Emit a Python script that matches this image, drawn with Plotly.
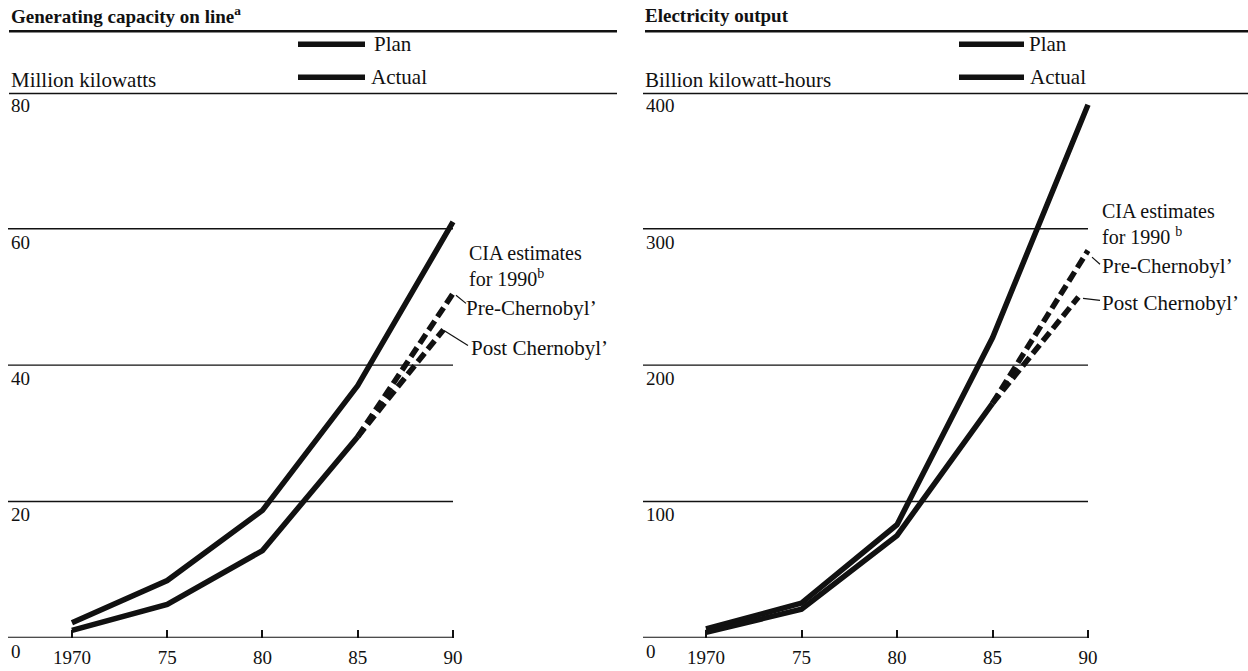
import plotly.graph_objects as go

W, H = 1248, 671          # reference pixel grid used for positioning
FIG_H = 698               # page height that the capture squeezes back to 671

# ---------------- data ----------------
years = [1970, 1975, 1980, 1985, 1990]
actual_years = [1970, 1975, 1980, 1985]
pre_years = [1985, 1990]
post_years = [1985, 1989.5]

# Generating capacity on line (million kW)
cap_plan = [2.2, 8.4, 18.7, 37.0, 61.0]
cap_actual = [1.1, 4.9, 12.8, 29.5]
cap_pre = [29.5, 50.5]
cap_post = [29.5, 45.2]

# Electricity output (billion kWh)
out_plan = [6.5, 25.5, 83.0, 220.0, 391.0]
out_actual = [4.0, 21.0, 75.0, 172.0]
out_pre = [172.0, 284.0]
out_post = [172.0, 250.0]

xtick_vals = [1970, 1975, 1980, 1985, 1990]
xtick_text = ["1970", "75", "80", "85", "90"]
cap_ticks = [0, 20, 40, 60, 80]
out_ticks = [0, 100, 200, 300, 400]

# ---------------- helpers ----------------
def px(x):
    return x / W

def py(y):
    return 1 - y / H

INK = "#111111"
SERIF = "Liberation Serif"
LW = 5.5

fig = go.Figure()

def add_lines(xa, ya, plan, actual, pre, post):
    fig.add_trace(go.Scatter(x=years, y=plan, mode="lines", xaxis=xa, yaxis=ya,
                             line=dict(color=INK, width=LW), showlegend=False, name="Plan"))
    fig.add_trace(go.Scatter(x=actual_years, y=actual, mode="lines", xaxis=xa, yaxis=ya,
                             line=dict(color=INK, width=LW), showlegend=False, name="Actual"))
    fig.add_trace(go.Scatter(x=pre_years, y=pre, mode="lines", xaxis=xa, yaxis=ya,
                             line=dict(color=INK, width=LW, dash="11px,5px"), showlegend=False,
                             name="Pre-Chernobyl’"))
    fig.add_trace(go.Scatter(x=post_years, y=post, mode="lines", xaxis=xa, yaxis=ya,
                             line=dict(color=INK, width=LW, dash="11px,5px"), showlegend=False,
                             name="Post Chernobyl’"))

add_lines("x", "y", cap_plan, cap_actual, cap_pre, cap_post)
add_lines("x2", "y2", out_plan, out_actual, out_pre, out_post)

# panel geometry (pixels on the reference grid)
Y0, Y1 = 635, 92
L_X0, L_X90 = 8, 453
R_X0, R_X90 = 643, 1088
EXT = 12
L_start = 1970 - (72 - L_X0) / 19.07
R_start = 1970 - (706 - R_X0) / 19.1

xaxis_common = dict(tickvals=xtick_vals, ticktext=xtick_text, ticks="inside", ticklen=8,
                    tickwidth=1.5, tickcolor=INK, showline=False, showgrid=False, zeroline=False,
                    tickfont=dict(family=SERIF, size=19, color=INK), ticklabelstandoff=6)
yaxis_common = dict(ticks="", showline=False, showgrid=False, zeroline=False,
                    ticklabelposition="inside bottom", ticklabeloverflow="allow",
                    tickfont=dict(family=SERIF, size=19, color=INK))

fig.update_layout(
    width=W, height=FIG_H, margin=dict(l=0, r=0, t=0, b=0),
    paper_bgcolor="white", plot_bgcolor="rgba(0,0,0,0)",
    xaxis=dict(domain=[px(L_X0), px(L_X90 + EXT)], range=[L_start, 1990 + EXT / 19.07],
               anchor="y", **xaxis_common),
    yaxis=dict(domain=[py(Y0), py(Y1)], range=[0, 80], anchor="x",
               tickvals=cap_ticks, ticktext=[str(v) for v in cap_ticks], **yaxis_common),
    xaxis2=dict(domain=[px(R_X0), px(R_X90 + EXT)], range=[R_start, 1990 + EXT / 19.1],
                anchor="y2", **xaxis_common),
    yaxis2=dict(domain=[py(Y0), py(Y1)], range=[0, 400], anchor="x2",
                tickvals=out_ticks, ticktext=[str(v) for v in out_ticks], **yaxis_common),
    showlegend=False,
)

shapes = []
# gridlines & baselines in data coordinates
for v in [20, 40, 60]:
    shapes.append(dict(type="line", xref="x", yref="y", x0=L_start, x1=1990, y0=v, y1=v,
                       line=dict(color=INK, width=1.3), layer="below"))
for v in [100, 200, 300]:
    shapes.append(dict(type="line", xref="x2", yref="y2", x0=R_start, x1=1990, y0=v, y1=v,
                       line=dict(color=INK, width=1.3), layer="below"))
shapes.append(dict(type="line", xref="x", yref="y", x0=L_start, x1=1990, y0=0, y1=0,
                   line=dict(color=INK, width=2)))
shapes.append(dict(type="line", xref="x2", yref="y2", x0=R_start, x1=1990, y0=0, y1=0,
                   line=dict(color=INK, width=2)))

def hline(x0, x1, y, w):
    shapes.append(dict(type="line", xref="paper", yref="paper", x0=px(x0), x1=px(x1),
                       y0=py(y), y1=py(y), line=dict(color=INK, width=w)))

def seg(x0, y0, x1, y1, w=1.2):
    shapes.append(dict(type="line", xref="paper", yref="paper", x0=px(x0), x1=px(x1),
                       y0=py(y0), y1=py(y1), line=dict(color=INK, width=w)))

# title rules and header rules
hline(9, 617, 31, 2.5)
hline(645, 1248, 31, 2.5)
hline(9, 617, 93, 1.5)
hline(643, 1248, 93, 1.5)

# legend samples
hline(298, 365, 44, 5.5)
hline(298, 365, 77, 5.5)
hline(959, 1024, 44, 5.5)
hline(959, 1024, 77, 5.5)

# leader lines
seg(456, 294, 466, 302)
seg(444, 329, 468, 344)
seg(1092, 256, 1100, 263)
seg(1083, 297, 1100, 299)

fig.update_layout(shapes=shapes)

annotations = []

def text(x, y, s, size=21, bold=False, anchor="left"):
    annotations.append(dict(xref="paper", yref="paper", x=px(x), y=py(y), text=s,
                            showarrow=False, xanchor=anchor, yanchor="middle", align="left",
                            font=dict(family=SERIF, size=size, color=INK,
                                      weight="bold" if bold else "normal")))

text(9, 15, "Generating capacity on line<sup>a</sup>", size=19, bold=True)
text(643, 15, "Electricity output", size=19, bold=True)
text(9, 80, "Million kilowatts")
text(643, 80, "Billion kilowatt-hours")
text(372, 44, "Plan")
text(369, 77, "Actual")
text(1027, 44, "Plan")
text(1028, 77, "Actual")

text(467, 265, "CIA estimates<br>for 1990<sup>b</sup>", size=20)
text(464, 307, "Pre-Chernobyl’")
text(469, 346, "Post Chernobyl’")

text(1100, 223, "CIA estimates<br>for 1990 <sup>b</sup>", size=20)
text(1100, 265, "Pre-Chernobyl’")
text(1100, 302, "Post Chernobyl’")

fig.update_layout(annotations=annotations)

fig.write_html(
    "out.html",
    config={"displayModeBar": False},
    post_script="document.body.style.margin='0';document.body.style.overflow='hidden';"
                "document.documentElement.style.overflow='hidden';",
)
